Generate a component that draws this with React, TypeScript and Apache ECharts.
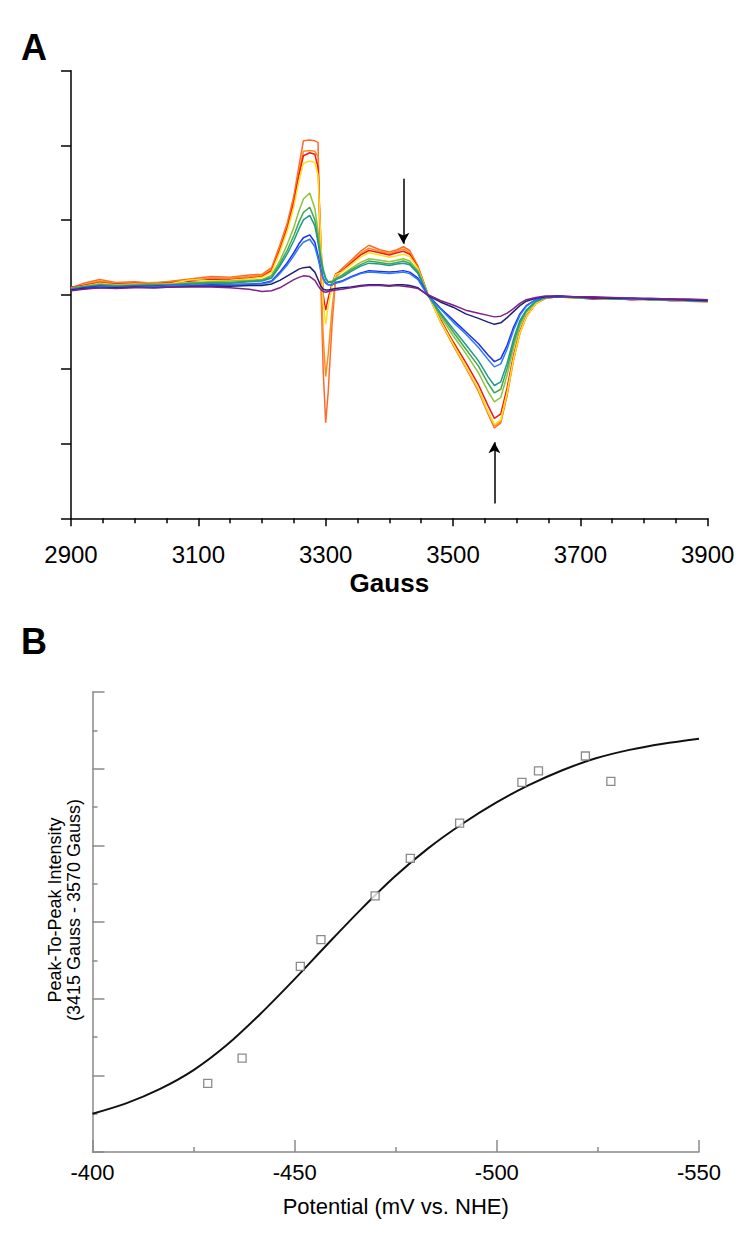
import React, { useEffect, useRef } from "react";
import * as echarts from "echarts";

const FONT = '"Liberation Sans", Arial, Helvetica, sans-serif';

// ---------- Panel A : EPR spectra ----------
const gauss = [
  2900, 2920, 2945, 2970, 3000, 3030, 3060, 3090, 3120, 3150, 3180, 3200,
  3215, 3228, 3240, 3250, 3258, 3265, 3275, 3283, 3288, 3292, 3296, 3300, 3304, 3310, 3316,
  3325, 3340, 3355, 3368, 3385, 3400, 3412, 3422, 3432, 3445, 3460,
  3480, 3500, 3520, 3540, 3555, 3565, 3575, 3585, 3595, 3605, 3615, 3630, 3645,
  3665, 3690, 3720, 3750, 3780, 3810, 3840, 3870, 3900,
];

const traceOrangeRed = [
  0.08, 0.15, 0.2, 0.16, 0.17, 0.15, 0.18, 0.21, 0.24, 0.23, 0.26, 0.27,
  0.36, 0.66, 0.97, 1.32, 1.72, 2.06, 2.07, 2.06, 2.04, 0.3, -1.0, -1.72, -1.3, -0.4, 0.26,
  0.34, 0.46, 0.58, 0.66, 0.6, 0.57, 0.6, 0.64, 0.59, 0.38, 0.02,
  -0.36, -0.68, -0.98, -1.3, -1.6, -1.79, -1.72, -1.35, -0.88, -0.52, -0.3, -0.12, -0.05,
  -0.02, -0.04, -0.06, -0.05, -0.07, -0.06, -0.08, -0.09, -0.1,
];
const traceOrange = [
  0.09, 0.13, 0.18, 0.15, 0.15, 0.16, 0.17, 0.19, 0.22, 0.22, 0.24, 0.26,
  0.34, 0.62, 0.93, 1.27, 1.64, 1.92, 1.93, 1.92, 1.85, 0.5, -0.55, -1.1, -0.8, -0.2, 0.24,
  0.31, 0.43, 0.55, 0.62, 0.58, 0.55, 0.58, 0.61, 0.56, 0.37, 0.01,
  -0.35, -0.67, -0.97, -1.28, -1.58, -1.76, -1.7, -1.33, -0.87, -0.51, -0.3, -0.12, -0.05,
  -0.03, -0.05, -0.05, -0.06, -0.06, -0.07, -0.08, -0.08, -0.09,
];
const traceRed = [
  0.1, 0.12, 0.16, 0.14, 0.15, 0.14, 0.16, 0.18, 0.2, 0.2, 0.22, 0.24,
  0.32, 0.6, 0.9, 1.24, 1.6, 1.86, 1.9, 1.88, 1.7, 0.8, 0.0, -0.21, -0.05, 0.15, 0.28,
  0.31, 0.42, 0.53, 0.59, 0.56, 0.53, 0.56, 0.58, 0.54, 0.36, 0.01,
  -0.33, -0.63, -0.91, -1.21, -1.49, -1.66, -1.6, -1.25, -0.82, -0.49, -0.29, -0.12, -0.05,
  -0.03, -0.04, -0.06, -0.05, -0.07, -0.06, -0.08, -0.08, -0.09,
];
const traceYellow = [
  0.07, 0.11, 0.15, 0.13, 0.14, 0.13, 0.15, 0.2, 0.18, 0.19, 0.21, 0.23,
  0.3, 0.57, 0.86, 1.18, 1.52, 1.76, 1.79, 1.77, 1.6, 0.8, -0.1, -0.4, -0.15, 0.12, 0.27,
  0.3, 0.4, 0.5, 0.56, 0.53, 0.5, 0.52, 0.54, 0.51, 0.35, 0.01,
  -0.35, -0.66, -0.96, -1.27, -1.57, -1.74, -1.68, -1.31, -0.86, -0.51, -0.3, -0.12, -0.05,
  -0.02, -0.05, -0.04, -0.06, -0.05, -0.07, -0.07, -0.09, -0.08,
];
const traceYellowGreen = [
  0.09, 0.11, 0.14, 0.12, 0.13, 0.14, 0.14, 0.16, 0.17, 0.18, 0.19, 0.2,
  0.26, 0.45, 0.68, 0.9, 1.12, 1.28, 1.36, 1.15, 0.85, 0.55, 0.35, 0.22, 0.17, 0.18, 0.22,
  0.26, 0.35, 0.43, 0.48, 0.46, 0.44, 0.46, 0.48, 0.45, 0.32, 0.01,
  -0.29, -0.55, -0.79, -1.05, -1.3, -1.44, -1.38, -1.08, -0.71, -0.42, -0.24, -0.1, -0.04,
  -0.03, -0.04, -0.05, -0.06, -0.05, -0.06, -0.07, -0.08, -0.09,
];
const traceGreen = [
  0.08, 0.1, 0.13, 0.12, 0.12, 0.13, 0.13, 0.15, 0.16, 0.16, 0.18, 0.19,
  0.24, 0.41, 0.6, 0.79, 0.97, 1.1, 1.17, 1.0, 0.75, 0.5, 0.33, 0.22, 0.17, 0.17, 0.21,
  0.25, 0.33, 0.4, 0.45, 0.43, 0.41, 0.43, 0.45, 0.42, 0.3, 0.0,
  -0.26, -0.5, -0.73, -0.96, -1.19, -1.32, -1.27, -0.99, -0.65, -0.38, -0.22, -0.09, -0.04,
  -0.02, -0.04, -0.05, -0.05, -0.06, -0.07, -0.06, -0.08, -0.09,
];
const traceTeal = [
  0.07, 0.1, 0.12, 0.11, 0.12, 0.12, 0.13, 0.14, 0.15, 0.15, 0.17, 0.18,
  0.22, 0.38, 0.55, 0.72, 0.88, 1.0, 1.06, 0.92, 0.7, 0.47, 0.31, 0.21, 0.16, 0.16, 0.2,
  0.23, 0.31, 0.38, 0.42, 0.41, 0.39, 0.41, 0.42, 0.4, 0.28, 0.0,
  -0.24, -0.46, -0.67, -0.89, -1.1, -1.22, -1.17, -0.92, -0.6, -0.35, -0.21, -0.09, -0.04,
  -0.03, -0.04, -0.04, -0.06, -0.05, -0.07, -0.07, -0.08, -0.09,
];
const traceBlue = [
  0.06, 0.09, 0.11, 0.1, 0.11, 0.11, 0.12, 0.12, 0.13, 0.13, 0.14, 0.15,
  0.18, 0.3, 0.43, 0.56, 0.68, 0.76, 0.8, 0.7, 0.52, 0.35, 0.22, 0.16, 0.13, 0.13, 0.16,
  0.18, 0.24, 0.29, 0.32, 0.31, 0.3, 0.31, 0.32, 0.3, 0.22, 0.0,
  -0.18, -0.34, -0.5, -0.66, -0.81, -0.9, -0.86, -0.68, -0.44, -0.26, -0.15, -0.07, -0.04,
  -0.03, -0.03, -0.05, -0.05, -0.06, -0.06, -0.07, -0.08, -0.08,
];
const traceLightBlue = [
  0.07, 0.08, 0.1, 0.1, 0.11, 0.1, 0.12, 0.12, 0.12, 0.13, 0.14, 0.14,
  0.17, 0.28, 0.4, 0.52, 0.63, 0.7, 0.74, 0.64, 0.48, 0.33, 0.21, 0.15, 0.13, 0.13, 0.15,
  0.17, 0.23, 0.28, 0.3, 0.29, 0.28, 0.29, 0.3, 0.28, 0.2, -0.01,
  -0.19, -0.37, -0.53, -0.71, -0.87, -0.97, -0.93, -0.73, -0.48, -0.28, -0.16, -0.07, -0.04,
  -0.02, -0.04, -0.04, -0.05, -0.06, -0.06, -0.07, -0.07, -0.08,
];
const traceNavy = [
  0.06, 0.08, 0.09, 0.09, 0.1, 0.09, 0.1, 0.11, 0.11, 0.11, 0.12, 0.12,
  0.14, 0.19, 0.25, 0.3, 0.34, 0.36, 0.37, 0.3, 0.2, 0.12, 0.07, 0.06, 0.06, 0.07, 0.08,
  0.09, 0.1, 0.12, 0.13, 0.13, 0.12, 0.13, 0.13, 0.12, 0.09, -0.01,
  -0.1, -0.17, -0.26, -0.32, -0.37, -0.4, -0.38, -0.31, -0.23, -0.15, -0.09, -0.05, -0.03,
  -0.02, -0.03, -0.04, -0.05, -0.05, -0.06, -0.06, -0.07, -0.08,
];
const tracePurple = [
  0.05, 0.07, 0.09, 0.08, 0.09, 0.09, 0.1, 0.1, 0.1, 0.09, 0.07, 0.04,
  0.05, 0.09, 0.15, 0.2, 0.23, 0.25, 0.24, 0.19, 0.12, 0.07, 0.04, 0.03, 0.04, 0.05, 0.06,
  0.07, 0.09, 0.11, 0.12, 0.12, 0.11, 0.12, 0.11, 0.1, 0.08, 0.0,
  -0.08, -0.14, -0.21, -0.25, -0.28, -0.3, -0.29, -0.25, -0.19, -0.12, -0.07, -0.04, -0.02,
  -0.02, -0.03, -0.03, -0.04, -0.05, -0.05, -0.06, -0.06, -0.07,
];

const traces = [
  traceOrangeRed, traceOrange, traceRed, traceYellow, traceYellowGreen, traceGreen,
  traceTeal, traceBlue, traceLightBlue, traceNavy, tracePurple,
];
const traceColors = [
  "#ff6a2b", "#ff8c1e", "#f01818", "#ffe01a", "#8cc43c", "#3fa84e",
  "#1f9a8c", "#1c2ef0", "#2e7af2", "#1f1f7a", "#7f208c",
];

const arrowDown = { gauss: 3422, from: 1.55, to: 0.68 };
const arrowUp = { gauss: 3565, from: -2.8, to: -1.98 };

// ---------- Panel B : titration ----------
const potentialPoints = [-428.5, -437.0, -451.4, -456.5, -469.9, -478.6, -490.8, -506.2, -510.3, -521.9, -528.2];
const intensityPoints = [0.79, 1.45, 3.84, 4.54, 5.68, 6.66, 7.58, 8.64, 8.94, 9.33, 8.67];
const fitPotential = [
  -400, -408.3, -416.6, -424.9, -433.2, -441.5, -449.8, -458.1, -466.4, -474.7,
  -483, -491.3, -499.6, -507.9, -516.2, -524.5, -532.8, -541.1, -550,
];
const fitIntensity = [
  0, 0.27, 0.64, 1.13, 1.79, 2.6, 3.49, 4.42, 5.33, 6.18,
  6.92, 7.55, 8.1, 8.57, 8.96, 9.27, 9.49, 9.65, 9.78,
];

export default function App() {
  const ref = useRef<HTMLDivElement>(null);

  useEffect(() => {
    if (!ref.current) return;
    const chart = echarts.init(ref.current, null, { renderer: "svg" });

    const black = "#000";
    const gray = "#8a8a8a";

    const specSeries: any[] = traces.map((vals, i) => ({
      type: "line",
      xAxisIndex: 0,
      yAxisIndex: 0,
      data: gauss.map((g, j) => [g, vals[j]]),
      showSymbol: false,
      symbol: "none",
      silent: true,
      z: 2 + i,
      lineStyle: { color: traceColors[i], width: 1.5 },
      itemStyle: { color: traceColors[i] },
    }));
    specSeries[specSeries.length - 1].markLine = {
      silent: true,
      symbol: ["none", "arrow"],
      symbolSize: [9, 11],
      label: { show: false },
      lineStyle: { color: black, width: 1.5, type: "solid" },
      data: [
        [{ coord: [arrowDown.gauss, arrowDown.from] }, { coord: [arrowDown.gauss, arrowDown.to] }],
        [{ coord: [arrowUp.gauss, arrowUp.from] }, { coord: [arrowUp.gauss, arrowUp.to] }],
      ],
    };

    const option: any = {
      animation: false,
      backgroundColor: "#fff",
      grid: [
        { left: 71, top: 70.7, width: 636.7, height: 447.6, outerBoundsMode: "none" },
        { left: 92.5, top: 692, width: 606.5, height: 460, outerBoundsMode: "none" },
      ],
      xAxis: [
        {
          gridIndex: 0,
          type: "value",
          min: 2900,
          max: 3900,
          interval: 200,
          axisLine: { show: true, onZero: false, lineStyle: { color: black, width: 1.5 } },
          axisTick: { show: true, length: 8, lineStyle: { color: black, width: 1.5 } },
          minorTick: { show: true, splitNumber: 4, length: 5, lineStyle: { color: black, width: 1.5 } },
          splitLine: { show: false },
          minorSplitLine: { show: false },
          axisLabel: { fontSize: 24, color: black, margin: 24, fontFamily: FONT, formatter: (v: number) => String(v) },
          name: "Gauss",
          nameLocation: "middle",
          nameGap: 52,
          nameTextStyle: { fontSize: 26, fontWeight: "bold", color: black, fontFamily: FONT },
        },
        {
          gridIndex: 1,
          type: "value",
          min: -550,
          max: -400,
          interval: 50,
          inverse: true,
          axisLine: { show: true, onZero: false, lineStyle: { color: gray, width: 1.5 } },
          axisTick: { show: true, inside: true, length: 12, lineStyle: { color: gray, width: 1.5 } },
          minorTick: { show: true, splitNumber: 2, length: 5, lineStyle: { color: gray, width: 1.5 } },
          splitLine: { show: false },
          minorSplitLine: { show: false },
          axisLabel: { fontSize: 22, color: black, margin: 9, fontFamily: FONT, formatter: (v: number) => String(v) },
          name: "Potential (mV vs. NHE)",
          nameLocation: "middle",
          nameGap: 43,
          nameTextStyle: { fontSize: 22, color: black, fontFamily: FONT },
        },
      ],
      yAxis: [
        {
          gridIndex: 0,
          type: "value",
          min: -3,
          max: 3,
          interval: 1,
          axisLine: { show: true, onZero: false, lineStyle: { color: black, width: 1.5 } },
          axisTick: { show: true, length: 10, lineStyle: { color: black, width: 1.5 } },
          axisLabel: { show: false },
          splitLine: { show: false },
        },
        {
          gridIndex: 1,
          type: "value",
          min: -1,
          max: 11,
          interval: 2,
          axisLine: { show: true, onZero: false, lineStyle: { color: gray, width: 1.5 } },
          axisTick: { show: true, inside: true, length: 12, lineStyle: { color: gray, width: 1.5 } },
          minorTick: { show: true, splitNumber: 2, length: 5, lineStyle: { color: gray, width: 1.5 } },
          axisLabel: { show: false },
          splitLine: { show: false },
          minorSplitLine: { show: false },
        },
      ],
      series: [
        ...specSeries,
        {
          type: "line",
          xAxisIndex: 1,
          yAxisIndex: 1,
          data: fitPotential.map((p, i) => [p, fitIntensity[i]]),
          smooth: 0.3,
          showSymbol: false,
          symbol: "none",
          silent: true,
          lineStyle: { color: "#111", width: 2 },
          z: 3,
        },
        {
          type: "scatter",
          xAxisIndex: 1,
          yAxisIndex: 1,
          data: potentialPoints.map((p, i) => [p, intensityPoints[i]]),
          symbol: "rect",
          symbolSize: 8,
          silent: true,
          itemStyle: { color: "#fff", borderColor: "#6e6e6e", borderWidth: 1.3 },
          z: 5,
        },
      ],
      graphic: [
        {
          type: "text",
          x: 34,
          y: 47,
          style: { text: "A", fontSize: 36, fontWeight: "bold", fontFamily: FONT, fill: black, align: "center", verticalAlign: "middle" },
        },
        {
          type: "text",
          x: 34,
          y: 641,
          style: { text: "B", fontSize: 36, fontWeight: "bold", fontFamily: FONT, fill: black, align: "center", verticalAlign: "middle" },
        },
        {
          type: "text",
          x: 64.5,
          y: 910,
          rotation: Math.PI / 2,
          style: {
            text: "Peak-To-Peak Intensity\n(3415 Gauss - 3570 Gauss)",
            fontSize: 18,
            lineHeight: 19,
            fontFamily: FONT,
            fill: black,
            align: "center",
            verticalAlign: "middle",
          },
        },
      ],
    };

    chart.setOption(option);
    return () => chart.dispose();
  }, []);

  return <div ref={ref} style={{ position: "absolute", left: 0, top: 0, width: 750, height: 1241 }} />;
}
